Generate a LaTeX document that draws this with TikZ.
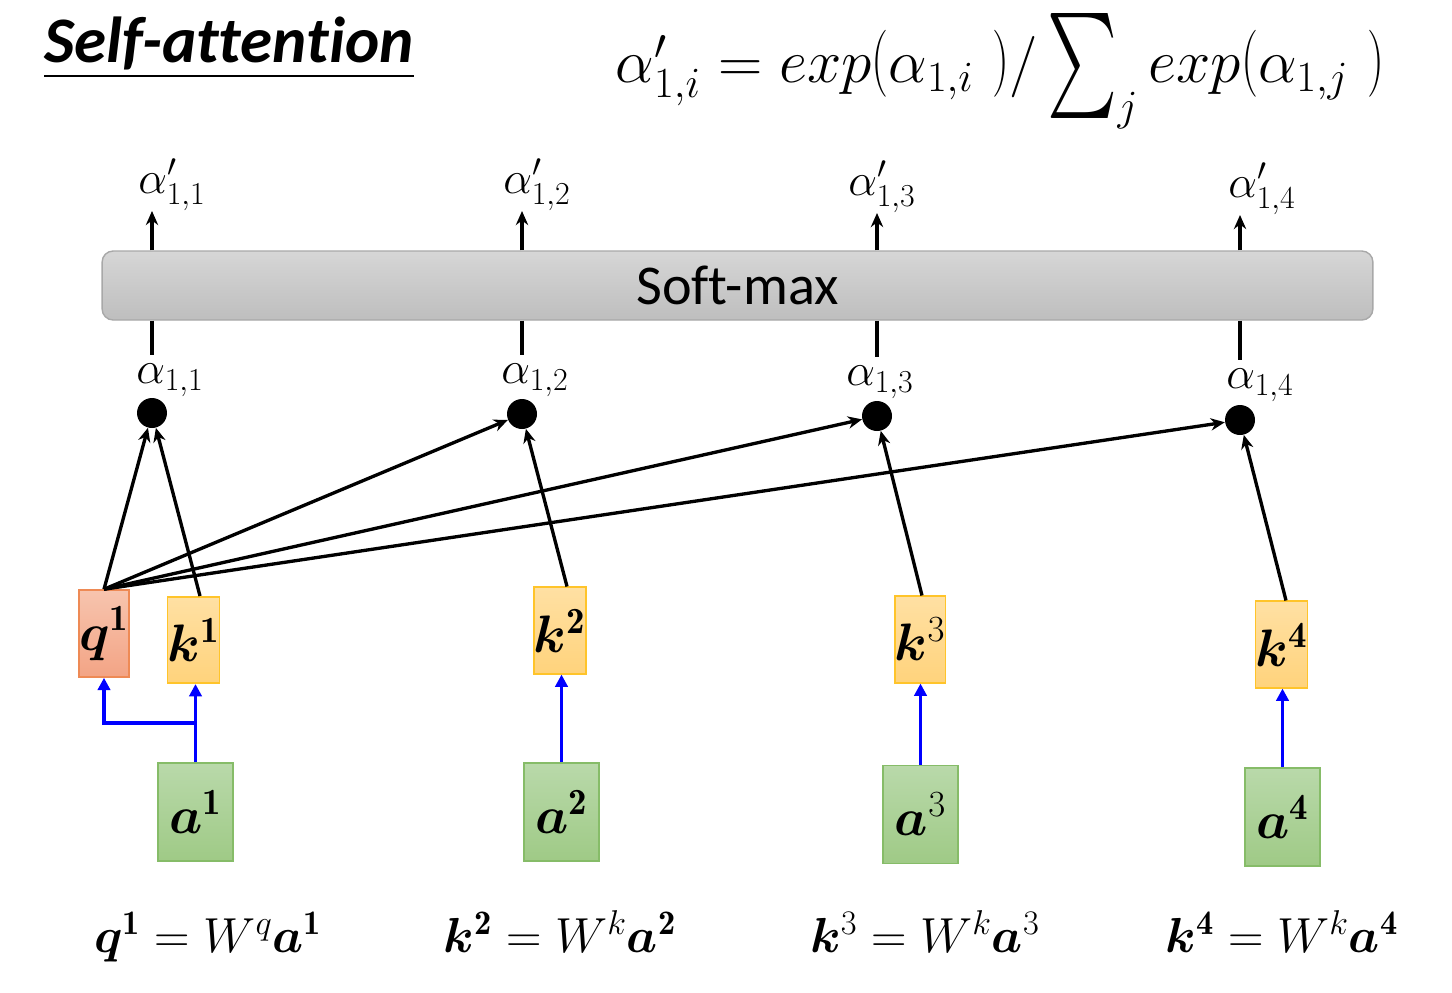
\RequirePackage{fix-cm}
\documentclass[tikz,border=0pt]{standalone}
\usepackage{amsmath}
\usepackage{bm}
\usepackage{fontspec}
\newfontfamily\calib[Ligatures=NoCommon]{Carlito}
\usetikzlibrary{arrows.meta}
\definecolor{bartop}{HTML}{D6D6D6}
\definecolor{barbot}{HTML}{BEBEBE}
\definecolor{barborder}{HTML}{A8A8A8}
\definecolor{qtop}{HTML}{F7C4AE}
\definecolor{qbot}{HTML}{F3A485}
\definecolor{qborder}{HTML}{EE8A55}
\definecolor{ktop}{HTML}{FFE0A3}
\definecolor{kbot}{HTML}{FFD37C}
\definecolor{kborder}{HTML}{FFC42A}
\definecolor{atop}{HTML}{B9D9AA}
\definecolor{abot}{HTML}{9FCA86}
\definecolor{aborder}{HTML}{86BC68}
\newcommand{\myLP}{\mathopen{\raisebox{-0.3cm}{\resizebox*{0.34cm}{1.34cm}{\raisebox{\depth}{(}}}}}
\newcommand{\myRP}{\mathclose{\raisebox{-0.3cm}{\resizebox*{0.34cm}{1.34cm}{\raisebox{\depth}{)}}}}}
\newcommand{\mySum}{\mathop{\raisebox{-0.72cm}{\resizebox*{1.4cm}{2.1cm}{\raisebox{\depth}{$\sum$}}}}}
\begin{document}
\begin{tikzpicture}[x=0.02cm,y=-0.02cm,
  box/.style={draw, line width=0.9pt, inner sep=0pt, align=center, font=\fontsize{30}{34}\selectfont},
  qbox/.style={box, draw=qborder, top color=qtop, bottom color=qbot, minimum width=0.92cm, minimum height=1.74cm},
  kbox/.style={box, draw=kborder, top color=ktop, bottom color=kbot, minimum width=0.93cm, minimum height=1.73cm},
  abox/.style={box, draw=aborder, top color=atop, bottom color=abot, minimum width=1.5cm, minimum height=1.96cm},
  dot/.style={circle, fill=black, inner sep=0pt, minimum size=0.6cm},
  att/.style={line width=1.9pt, -{Stealth[length=8pt,width=7pt]}},
  up/.style={line width=1.9pt, -{Stealth[length=8pt,width=7pt]}},
  stem/.style={line width=1.9pt},
  proj/.style={draw=blue, line width=2.2pt, -{Triangle[length=7pt,width=7pt]}},
  alab/.style={font=\fontsize{26}{30}\selectfont, inner sep=0pt},
  eqn/.style={font=\fontsize{28}{32}\selectfont, inner sep=0pt, anchor=base}
]
\useasboundingbox (0,0) rectangle (1452,992);

% title
\node[anchor=base west, inner sep=0pt, font=\calib\bfseries\itshape\fontsize{37}{42}\selectfont] (title) at (44,62) {Self-attention};
\draw[line width=1.2pt] ([yshift=-0.28cm]title.base west) -- ([yshift=-0.28cm]title.base east);

% formula
\node[anchor=base, inner sep=0pt, font=\fontsize{35}{40}\selectfont] (formula) at (1000,82)
  {$\alpha'_{1,i} = exp\myLP\alpha_{1,i}\ \myRP/\mySum\nolimits_j exp\myLP\alpha_{1,j}\ \myRP$};

% softmax bar
\node[draw=barborder, line width=0.8pt, rounded corners=0.22cm, top color=bartop, bottom color=barbot,
      minimum width=25.42cm, minimum height=1.38cm, inner sep=0pt,
      font=\calib\fontsize{32}{36}\selectfont] (sm) at (737.5,285.5) {Soft-max};

% dots
\node[dot] (d1) at (152,413) {};
\node[dot] (d2) at (522,414) {};
\node[dot] (d3) at (877,416) {};
\node[dot] (d4) at (1240,420) {};

% alpha labels
\node[alab, anchor=north, text height=0.56cm] (l1) at (170,355) {$\alpha_{1,1}$};
\node[alab, anchor=north, text height=0.56cm] (l2) at (535,355) {$\alpha_{1,2}$};
\node[alab, anchor=north, text height=0.56cm] (l3) at (880,357) {$\alpha_{1,3}$};
\node[alab, anchor=north, text height=0.56cm] (l4) at (1260,360) {$\alpha_{1,4}$};

% alpha prime labels
\node[alab, anchor=south] (p1) at (172,211) {$\alpha'_{1,1}$};
\node[alab, anchor=south] (p2) at (537,211) {$\alpha'_{1,2}$};
\node[alab, anchor=south] (p3) at (882,213) {$\alpha'_{1,3}$};
\node[alab, anchor=south] (p4) at (1262,215) {$\alpha'_{1,4}$};

% stems
\foreach \i in {1,2,3,4}{
  \draw[stem] (d\i |- sm.south) -- (d\i |- l\i.north);
  \draw[up] (d\i |- sm.north) -- (d\i |- p\i.south);
}

% q, k boxes
\node[qbox] (q1) at (104,633.5) {$\bm{q}^{\mathbf{1}}$};
\node[kbox] (k1) at (193.5,640) {$\bm{k}^{\mathbf{1}}$};
\node[kbox] (k2) at (560,630.5) {$\bm{k}^{\mathbf{2}}$};
\node[kbox] (k3) at (920,639.5) {$\bm{k}^{3}$};
\node[kbox] (k4) at (1281.5,644.5) {$\bm{k}^{\mathbf{4}}$};

% a boxes
\node[abox] (a1) at (195.5,812) {$\bm{a}^{\mathbf{1}}$};
\node[abox] (a2) at (561.5,812) {$\bm{a}^{\mathbf{2}}$};
\node[abox] (a3) at (920.5,814.5) {$\bm{a}^{3}$};
\node[abox] (a4) at (1282.5,817) {$\bm{a}^{\mathbf{4}}$};

% attention arrows
\draw[att] (q1.north) -- (d1);
\draw[att] (q1.north) -- (d2);
\draw[att] (q1.north) -- (d3);
\draw[att] (q1.north) -- (d4);
\draw[att] ([xshift=0.13cm]k1.north) -- (d1);
\draw[att] ([xshift=0.14cm]k2.north) -- (d2);
\draw[att] ([xshift=0.04cm]k3.north) -- (d3);
\draw[att] ([xshift=0.09cm]k4.north) -- (d4);

% projections
\coordinate (br) at (195.5,723);
\draw[proj] (a1.north) -- (a1.north |- k1.south);
\draw[proj] (br) -| (q1.south);
\draw[proj] (a2.north) -- (a2.north |- k2.south);
\draw[proj] (a3.north) -- (a3.north |- k3.south);
\draw[proj] (a4.north) -- (a4.north |- k4.south);

% equations
\node[eqn] (e1) at (208,952) {$\bm{q}^{\mathbf{1}} = W^{q}\bm{a}^{\mathbf{1}}$};
\node[eqn] (e2) at (560,952) {$\bm{k}^{\mathbf{2}} = W^{k}\bm{a}^{\mathbf{2}}$};
\node[eqn] (e3) at (925,952) {$\bm{k}^{3} = W^{k}\bm{a}^{3}$};
\node[eqn] (e4) at (1282,952) {$\bm{k}^{\mathbf{4}} = W^{k}\bm{a}^{\mathbf{4}}$};
\end{tikzpicture}
\end{document}
